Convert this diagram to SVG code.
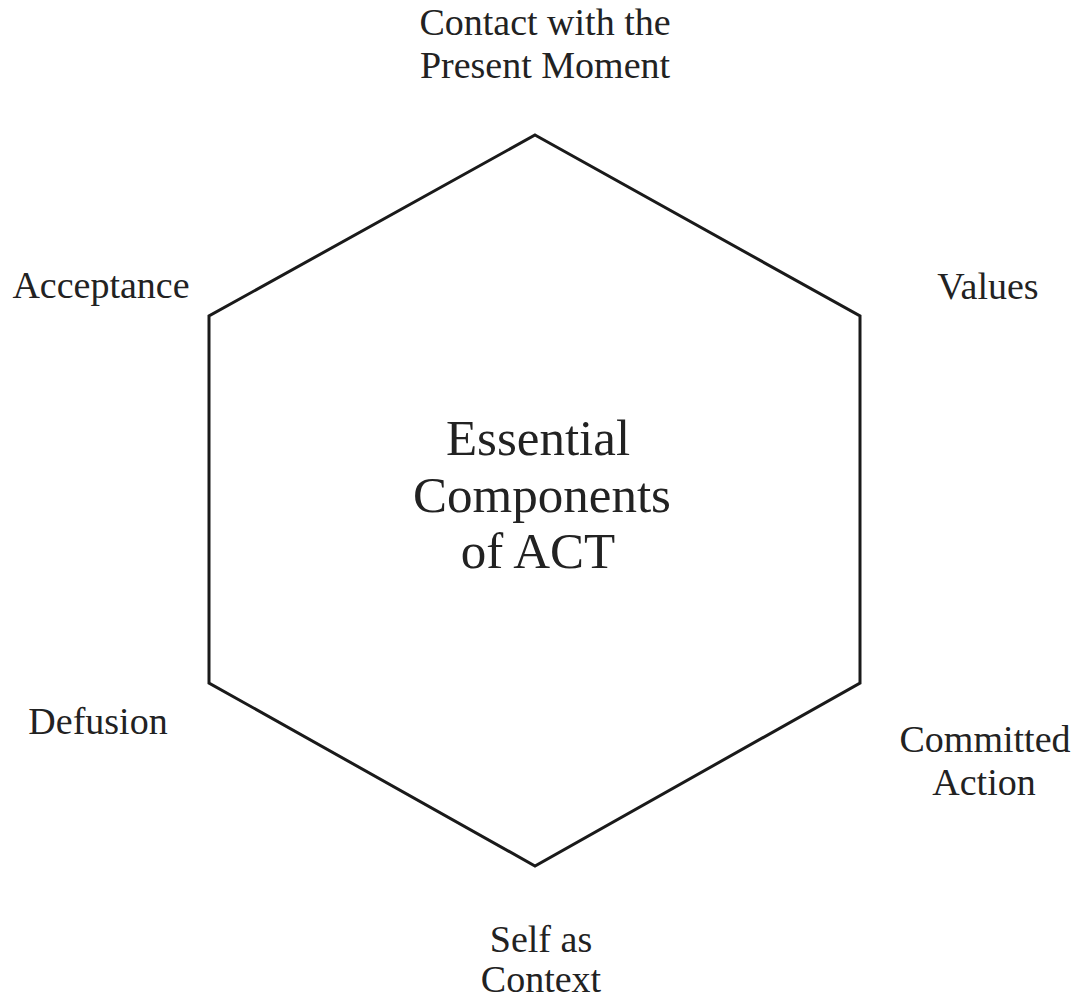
<svg xmlns="http://www.w3.org/2000/svg" width="1076" height="1000" viewBox="0 0 1076 1000">
<style>
.lbl{font-family:"Liberation Serif","Times New Roman",serif;font-size:38px;fill:#222;text-anchor:middle}
.ctr{font-family:"Liberation Serif","Times New Roman",serif;font-size:51px;fill:#222;text-anchor:middle}
.hex{fill:none;stroke:#1a1a1a;stroke-width:3;stroke-linejoin:miter}
</style>
<rect width="1076" height="1000" fill="#fff"/>
<g id="connectors">
<polygon class="hex" points="535,135 860,316 860,683 535,866 209,683 209,316"/>
</g>
<g id="center"><text class="ctr" x="538" y="455">Essential</text><text class="ctr" x="542" y="512">Components</text><text class="ctr" x="538" y="568">of ACT</text></g>
<g id="contact"><text class="lbl" x="545" y="35">Contact with the</text><text class="lbl" x="545" y="78">Present Moment</text></g>
<g id="acceptance"><text class="lbl" x="101" y="298">Acceptance</text></g>
<g id="values"><text class="lbl" x="988" y="299">Values</text></g>
<g id="defusion"><text class="lbl" x="98" y="734">Defusion</text></g>
<g id="committed"><text class="lbl" x="985" y="752">Committed</text><text class="lbl" x="984" y="795">Action</text></g>
<g id="self"><text class="lbl" x="541" y="952">Self as</text><text class="lbl" x="541" y="992">Context</text></g>
</svg>
